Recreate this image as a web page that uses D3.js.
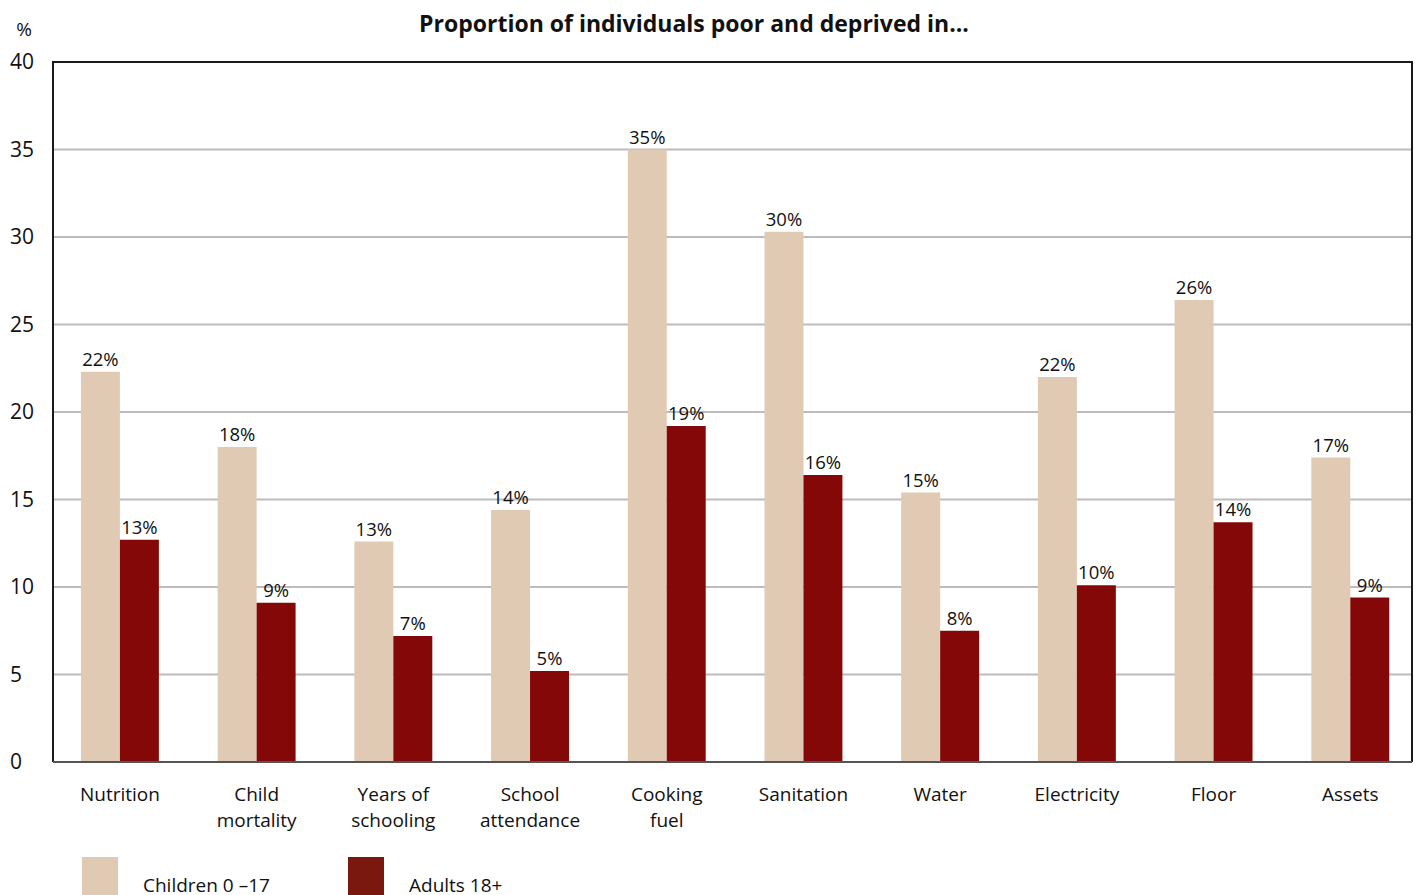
<!DOCTYPE html>
<html>
<head>
<meta charset="utf-8">
<script src="https://cdn.jsdelivr.net/npm/d3@7"></script>
<style>
  html, body { margin: 0; padding: 0; background: #fff; }
  svg { display: block; font-family: "Open Sans", "Noto Sans", sans-serif; }
</style>
</head>
<body>
<svg id="chart" width="1417" height="895"></svg>
<script>
// Deprivation indicators
const categories = [
  ["Nutrition"], ["Child", "mortality"], ["Years of", "schooling"], ["School", "attendance"],
  ["Cooking", "fuel"], ["Sanitation"], ["Water"], ["Electricity"], ["Floor"], ["Assets"]
];
// Share of individuals poor and deprived, %
const children = [22.3, 18.0, 12.6, 14.4, 35.0, 30.3, 15.4, 22.0, 26.4, 17.4];
const adults   = [12.7,  9.1,  7.2,  5.2, 19.2, 16.4,  7.5, 10.1, 13.7,  9.4];
const seriesNames = ["Children 0 \u201317", "Adults 18+"];
const yTicks = [0, 5, 10, 15, 20, 25, 30, 35, 40];

const colors = { children: "#e0cab4", adults: "#850808", adultsKey: "#7a1810" };

const svg = d3.select("#chart");
const plotL = 53, plotR = 1412, plotT = 62, plotB = 762;

const x = d3.scaleBand().domain(d3.range(categories.length))
  .range([plotL + 2.6, plotR + 2.6]).paddingInner(0.43).paddingOuter(0.1855);
const y = d3.scaleLinear().domain([0, 40]).range([plotB, plotT]);
const sub = d3.scaleBand().domain([0, 1]).range([0, x.bandwidth()]);

// Gridlines
svg.append("g")
  .selectAll("line").data(yTicks.filter(t => t > 0 && t < 40)).join("line")
  .attr("x1", plotL).attr("x2", plotR)
  .attr("y1", d => y(d)).attr("y2", d => y(d))
  .attr("stroke", "#bcbcbc").attr("stroke-width", 2);

// Bars
const groups = svg.append("g").selectAll("g").data(categories).join("g")
  .attr("transform", (d, i) => `translate(${x(i)},0)`);

const pairs = (i) => [
  { v: children[i], c: colors.children, k: 0 },
  { v: adults[i], c: colors.adults, k: 1 }
];

groups.selectAll("rect").data((d, i) => pairs(i)).join("rect")
  .attr("x", d => sub(d.k)).attr("width", sub.bandwidth())
  .attr("y", d => y(d.v)).attr("height", d => plotB - y(d.v))
  .attr("fill", d => d.c);

groups.selectAll("text.val").data((d, i) => pairs(i)).join("text")
  .attr("class", "val")
  .attr("x", d => sub(d.k) + sub.bandwidth() / 2)
  .attr("y", d => y(d.v) - 6)
  .attr("text-anchor", "middle")
  .attr("font-size", 18.5).attr("fill", "#111")
  .text(d => Math.round(d.v) + "%");

// Frame: left, top, right dark; baseline gray
svg.append("path")
  .attr("d", `M${plotL},${plotB}V${plotT}H${plotR}V${plotB}`)
  .attr("fill", "none").attr("stroke", "#1a1a1a").attr("stroke-width", 2);
svg.append("line")
  .attr("x1", plotL).attr("x2", plotR).attr("y1", plotB).attr("y2", plotB)
  .attr("stroke", "#555").attr("stroke-width", 2);

// Y axis, labels left-aligned at the page margin
const yAxis = d3.axisLeft(y).tickValues(yTicks).tickSize(0).tickPadding(0);
const ya = svg.append("g").attr("transform", `translate(${plotL},0)`).call(yAxis);
ya.select(".domain").remove();
ya.selectAll("text").attr("font-size", 21).attr("fill", "#111")
  .attr("text-anchor", "start").attr("x", 10 - plotL)
  .attr("font-family", "'Open Sans', sans-serif");

svg.append("text").attr("x", 24).attr("y", 36).attr("text-anchor", "middle")
  .attr("font-size", 19).attr("fill", "#111").text("%");

// X category labels
const xl = svg.append("g").selectAll("text").data(categories).join("text")
  .attr("x", (d, i) => x(i) + x.bandwidth() / 2)
  .attr("y", 801)
  .attr("text-anchor", "middle").attr("font-size", 19).attr("fill", "#111");
xl.selectAll("tspan").data(d => d).join("tspan")
  .attr("x", function () { return this.parentNode.getAttribute("x"); })
  .attr("dy", (d, j) => j === 0 ? 0 : 26)
  .text(d => d);

// Title
svg.append("text").attr("x", 694).attr("y", 32).attr("text-anchor", "middle")
  .attr("font-size", 23).attr("font-weight", "bold").attr("fill", "#111")
  .text("Proportion of individuals poor and deprived in...");

// Legend
const legend = svg.append("g").selectAll("g").data(seriesNames).join("g")
  .attr("transform", (d, i) => `translate(${82 + i * 266},857)`);
legend.append("rect").attr("width", 36).attr("height", 40)
  .attr("fill", (d, i) => i === 0 ? colors.children : colors.adultsKey);
legend.append("text").attr("x", 61).attr("y", 35)
  .attr("font-size", 19).attr("fill", "#111").text(d => d);
</script>
</body>
</html>
